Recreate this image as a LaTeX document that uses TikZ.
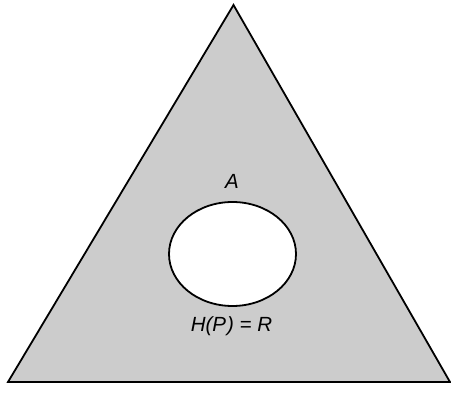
\documentclass[tikz,border=0pt]{standalone}
\usepackage{fontspec}
\setmainfont{Liberation Sans}
\usetikzlibrary{shapes.geometric}
\definecolor{shade}{HTML}{CCCCCC}
\tikzset{
  outline/.style={draw=black, line width=1.8pt, line join=miter},
  lbl/.style={inner sep=0pt, font=\fontsize{20.5}{24}\selectfont\itshape}
}
\begin{document}
\begin{tikzpicture}[x=1pt,y=-1pt]
\useasboundingbox (0,0) rectangle (451,395);
\coordinate (top) at (233.5,5);
\coordinate (bl) at (8,382);
\coordinate (br) at (450,382);
\filldraw[outline, fill=shade] (top) -- (bl) -- (br) -- cycle;
\node[outline, fill=white, ellipse, minimum width=127pt, minimum height=104pt, inner sep=0pt] (hole) at (232.5,254) {};
\node[lbl] (a) at (232,181) {A};
\node[lbl] (h) at (231.5,326) {H(P\kern0.05em) = R};
\end{tikzpicture}
\end{document}
